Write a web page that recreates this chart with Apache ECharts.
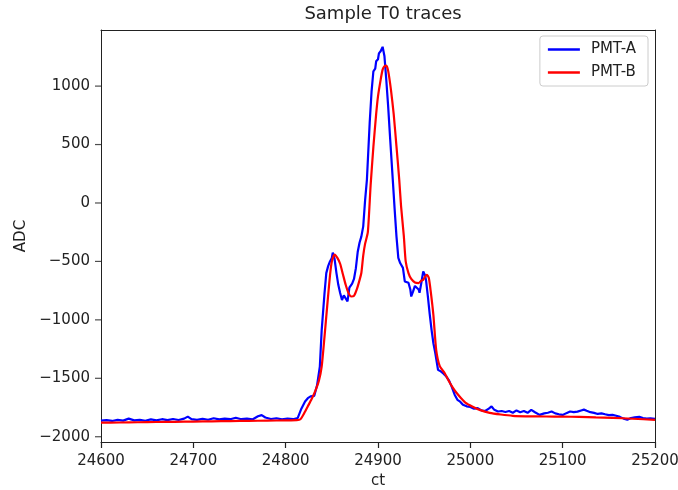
<!DOCTYPE html>
<html><head><meta charset="utf-8">
<script src="https://cdn.jsdelivr.net/npm/echarts@6/dist/echarts.min.js"></script>
<style>html,body{margin:0;padding:0;background:#fff}#c{width:678px;height:490px}</style>
</head><body><div id="c"></div>
<script>
const xTicks = [24600,24700,24800,24900,25000,25100,25200];
const yTicks = [-2000,-1500,-1000,-500,0,500,1000];

const ctA = [24600,24606,24612,24618,24624,24630,24636,24642,24648,24654,24660,24666,24672,24678,24684,24690,24694,24698,24704,24710,24716,24722,24728,24734,24740,24746,24752,24758,24764,24770,24774,24778,24784,24790,24796,24802,24808,24813,24817,24821,24824,24827,24831,24834,24837,24839,24842,24844,24846,24848,24850,24851,24853,24855,24857,24859,24861,24863,24865,24867,24869,24872,24874,24876,24878,24880,24882,24884,24886,24888,24891,24893,24895,24897,24898,24900,24901,24903,24905,24907,24909,24911,24913,24914,24916,24918,24920,24922,24924,24926,24927,24929,24931,24933,24935,24936,24938,24940,24942,24944,24945,24947,24949,24951,24952,24954,24956,24958,24960,24962,24965,24968,24971,24974,24977,24980,24983,24986,24989,24992,24996,25000,25004,25008,25012,25016,25020,25023,25026,25030,25034,25038,25042,25046,25050,25054,25058,25062,25066,25070,25075,25080,25084,25088,25092,25096,25100,25104,25108,25112,25116,25120,25123,25126,25130,25134,25138,25142,25146,25150,25154,25158,25162,25166,25170,25174,25178,25183,25187,25191,25195,25200];
const adcA = [-1862,-1858,-1865,-1856,-1862,-1845,-1860,-1855,-1863,-1852,-1860,-1850,-1858,-1848,-1857,-1845,-1828,-1850,-1856,-1846,-1855,-1842,-1852,-1845,-1850,-1838,-1850,-1845,-1852,-1825,-1815,-1835,-1848,-1842,-1852,-1845,-1850,-1840,-1760,-1698,-1670,-1655,-1650,-1560,-1400,-1090,-780,-600,-540,-500,-470,-425,-480,-600,-700,-770,-830,-790,-800,-842,-725,-690,-650,-560,-420,-340,-286,-200,20,200,686,950,1127,1150,1212,1230,1280,1300,1336,1255,1050,827,570,560,200,-50,-286,-470,-514,-530,-555,-671,-675,-683,-740,-800,-757,-710,-700,-740,-768,-680,-585,-620,-660,-800,-950,-1085,-1200,-1282,-1427,-1441,-1460,-1485,-1520,-1575,-1640,-1684,-1700,-1727,-1740,-1745,-1760,-1755,-1775,-1780,-1760,-1741,-1770,-1784,-1780,-1788,-1780,-1795,-1775,-1790,-1780,-1795,-1770,-1790,-1813,-1800,-1795,-1784,-1800,-1808,-1813,-1798,-1784,-1790,-1785,-1775,-1768,-1778,-1790,-1796,-1805,-1800,-1808,-1815,-1813,-1820,-1830,-1845,-1855,-1840,-1835,-1830,-1840,-1845,-1843,-1847];

const ctB = [24600,24620,24640,24660,24680,24700,24720,24740,24760,24780,24800,24812,24816,24820,24824,24828,24832,24836,24839,24842,24845,24848,24850,24853,24856,24859,24862,24865,24868,24871,24874,24877,24880,24882,24884,24886,24889,24892,24895,24898,24900,24903,24905,24907,24909,24911,24914,24917,24920,24923,24925,24928,24930,24933,24936,24940,24944,24947,24949,24951,24953,24955,24957,24960,24963,24967,24972,24977,24981,24985,24990,24995,25002,25010,25021,25033,25046,25060,25082,25100,25118,25136,25154,25176,25200];
const adcB = [-1880,-1878,-1876,-1874,-1872,-1870,-1868,-1866,-1864,-1862,-1860,-1858,-1850,-1800,-1740,-1680,-1610,-1520,-1400,-1150,-880,-620,-500,-442,-470,-520,-610,-700,-770,-800,-795,-740,-660,-597,-450,-350,-250,150,480,760,913,1060,1141,1170,1175,1130,970,760,485,200,-29,-286,-500,-600,-650,-680,-685,-665,-657,-630,-614,-640,-750,-960,-1256,-1399,-1453,-1527,-1580,-1624,-1670,-1710,-1741,-1770,-1796,-1810,-1821,-1825,-1827,-1828,-1830,-1834,-1838,-1846,-1855];

const X_MIN = 24600, X_MAX = 25200, Y_MIN = -2045, Y_MAX = 1480;
const pairs = (xs, ys) => xs.map((x, i) => [x, ys[i]]);
const fmt = v => (v < 0 ? '\u2212' : '') + String(Math.abs(v));
const FONT = 'DejaVu Sans';
const AX = '#222';
const TXT = '#222';

const chart = echarts.init(document.getElementById('c'), null, {renderer: 'canvas'});
chart.setOption({
  animation: false,
  backgroundColor: '#fff',
  title: {text: 'Sample T0 traces', left: 378, top: 0, textAlign: 'center',
    textStyle: {fontFamily: FONT, fontSize: 18, fontWeight: 'normal', color: TXT}},
  legend: {
    orient: 'vertical', right: 30, top: 36,
    data: ['PMT-A', 'PMT-B'],
    icon: 'rect', itemWidth: 32, itemHeight: 2.5, itemGap: 8,
    backgroundColor: '#fff', borderColor: '#ccc', borderWidth: 1, borderRadius: 3,
    padding: [6, 12, 6, 8],
    textStyle: {fontFamily: FONT, fontSize: 15, color: TXT, padding: [0, 0, 0, 6]}
  },
  grid: {left: 101, right: 23, top: 30, bottom: 48, containLabel: false, outerBoundsMode: 'none'},
  xAxis: [{
    type: 'value', min: X_MIN, max: X_MAX, interval: 100,
    name: 'ct', nameLocation: 'middle', nameGap: 32,
    nameTextStyle: {fontFamily: FONT, fontSize: 15, color: TXT},
    axisLine: {show: true, onZero: false, lineStyle: {color: AX, width: 1}},
    axisTick: {show: true, inside: false, length: 6, lineStyle: {color: AX, width: 1.2}},
    axisLabel: {fontFamily: FONT, fontSize: 15, color: TXT, margin: 12,
      customValues: xTicks, formatter: fmt},
    splitLine: {show: false}
  }, {
    type: 'value', min: X_MIN, max: X_MAX, position: 'top',
    axisLine: {show: true, onZero: false, lineStyle: {color: AX, width: 1}},
    axisTick: {show: false}, axisLabel: {show: false}, splitLine: {show: false}
  }],
  yAxis: [{
    type: 'value', min: Y_MIN, max: Y_MAX,
    name: 'ADC', nameLocation: 'middle', nameGap: 68, nameRotate: 90,
    nameTextStyle: {fontFamily: FONT, fontSize: 15, color: TXT},
    axisLine: {show: true, onZero: false, lineStyle: {color: AX, width: 1}},
    axisTick: {show: false},
    axisLabel: {fontFamily: FONT, fontSize: 15, color: TXT, margin: 11, customValues: yTicks, formatter: fmt},
    splitLine: {show: false}
  }, {
    type: 'value', min: Y_MIN, max: Y_MAX, position: 'right',
    axisLine: {show: true, onZero: false, lineStyle: {color: AX, width: 1}},
    axisTick: {show: false}, axisLabel: {show: false}, splitLine: {show: false}
  }],
  series: [{
    name: 'PMT-A', type: 'line', data: pairs(ctA, adcA), showSymbol: false,
    lineStyle: {color: '#0000ff', width: 2.2}, itemStyle: {color: '#0000ff'}
  }, {
    name: 'PMT-B', type: 'line', data: pairs(ctB, adcB), showSymbol: false, smooth: 0.2,
    lineStyle: {color: '#ff0000', width: 2.2}, itemStyle: {color: '#ff0000'}
  }, {
    name: 'yticks', type: 'scatter', silent: true, clip: false, z: 5,
    data: yTicks.map(v => [X_MIN, v]),
    symbol: 'rect', symbolSize: [6, 1.2], symbolOffset: [-3, 0],
    itemStyle: {color: AX}, tooltip: {show: false}
  }]
});
</script></body></html>
